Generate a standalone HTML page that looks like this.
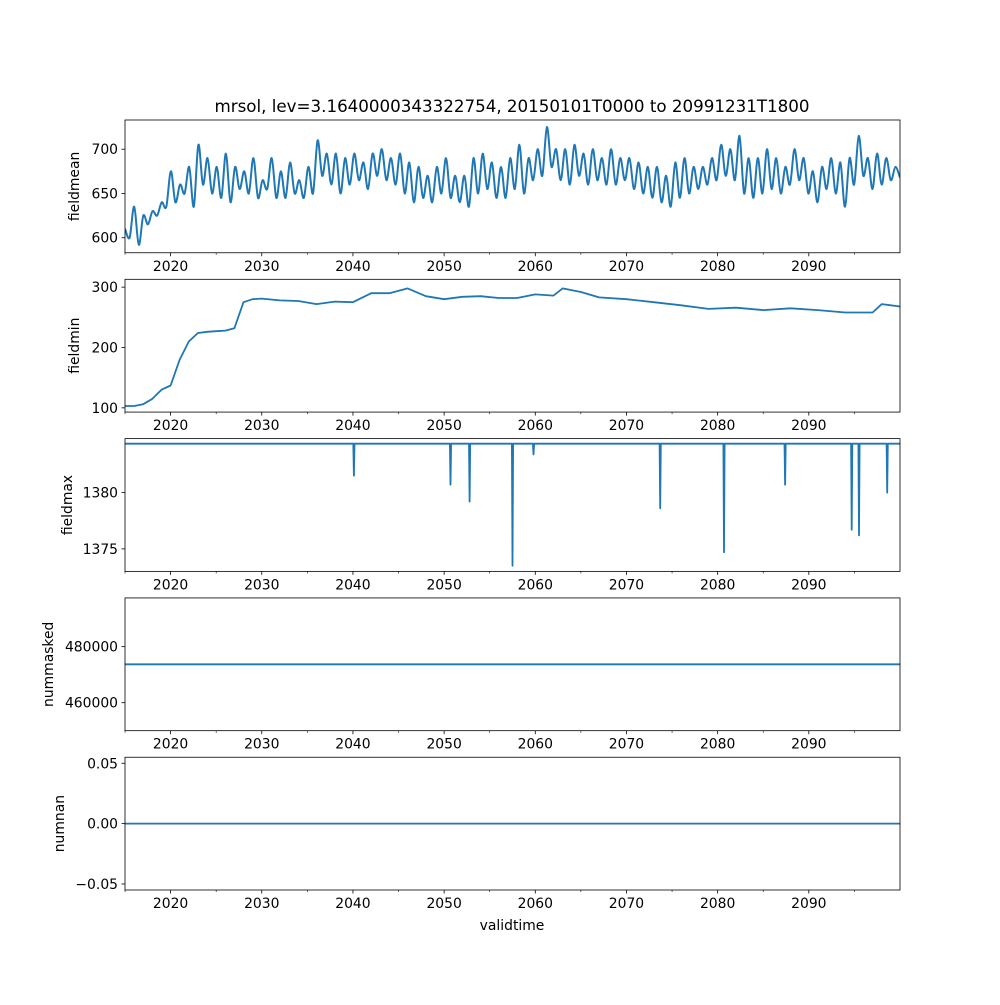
<!DOCTYPE html>
<html><head><meta charset="utf-8"><style>
body{margin:0;background:#fff}
svg{font-family:"DejaVu Sans","Liberation Sans",sans-serif}
</style></head><body>
<svg id="fig" width="1000" height="1000" xmlns="http://www.w3.org/2000/svg">
<text x="512" y="112" font-size="16.7" text-anchor="middle">mrsol, lev=3.1640000343322754, 20150101T0000 to 20991231T1800</text>
<text x="512" y="930" font-size="13.9" text-anchor="middle">validtime</text>
</svg>
<script>
const meanPairs=[610,600,635,592,625,615,630,625,640,635,675,640,660,650,680,635,705,660,690,650,680,645,695,640,680,655,675,650,690,645,665,655,690,645,675,645,685,650,665,645,680,650,710,670,695,660,695,650,690,660,695,665,685,655,695,670,700,665,690,660,695,650,685,640,680,645,670,640,680,650,690,645,670,640,670,635,690,650,695,655,685,645,680,645,690,655,705,650,690,665,700,670,725,680,700,665,700,660,705,670,695,660,700,665,690,660,700,660,690,665,690,655,685,650,680,645,680,640,670,635,685,645,690,650,680,655,680,660,690,665,705,670,700,665,715,650,690,645,690,650,700,655,690,650,680,660,700,665,690,650,675,640,680,655,690,650,685,635,690,660,715,670,690,655,695,660,690,665,680,668];
const minYears=[2015,2016,2017,2018,2019,2020,2021,2022,2023,2024,2025,2026,2027,2028,2029,2030,2032,2034,2036,2038,2040,2042,2044,2046,2048,2050,2052,2054,2056,2058,2060,2062,2063,2065,2067,2070,2073,2076,2079,2082,2085,2088,2091,2094,2097,2098,2100];
const minVals=[103,103,106,115,130,137,180,210,224,226,227,228,232,275,280,281,278,277,272,276,275,290,290,298,285,280,284,285,282,282,288,286,298,292,283,280,275,270,264,266,262,265,262,258,258,272,268];
const maxBase=1384.35;
const spikeYears=[2040.1,2050.7,2052.8,2057.5,2059.8,2073.7,2080.7,2087.4,2094.7,2095.5,2098.6];
const spikeVals=[1381.5,1380.7,1379.2,1373.5,1383.4,1378.6,1374.7,1380.7,1376.7,1376.2,1380];
const maskedVal=473700;
const nanVal=0;
const xTickYears=[2020,2030,2040,2050,2060,2070,2080,2090];
const minorYears=[2015,2025,2035,2045,2055,2065,2075,2085,2095];

const NS="http://www.w3.org/2000/svg";
const svg=document.getElementById('fig');
const L=125,R=900,H=132.76,G=26.55;
const x=y=>L+(y-2015)/(2100-2015)*(R-L);
function el(t,a,p){const e=document.createElementNS(NS,t);for(const k in a)e.setAttribute(k,a[k]);(p||svg).appendChild(e);return e;}
const panels=[
 {name:'fieldmean',lo:583,hi:733,ticks:[600,650,700],lab:v=>String(v)},
 {name:'fieldmin',lo:93,hi:313,ticks:[100,200,300],lab:v=>String(v)},
 {name:'fieldmax',lo:1373.0,hi:1384.8,ticks:[1375,1380],lab:v=>String(v)},
 {name:'nummasked',lo:450015,hi:497385,ticks:[460000,480000],lab:v=>String(v)},
 {name:'numnan',lo:-0.055,hi:0.055,ticks:[-0.05,0,0.05],lab:v=>v.toFixed(2).replace('-','\u2212')}
];
panels.forEach((p,i)=>{
 const top=120+i*(H+G),bot=top+H;
 const yf=v=>bot-(v-p.lo)/(p.hi-p.lo)*H;
 p.y=yf;
 const g=el('g',{});
 
 
 el('rect',{x:L,y:top,width:R-L,height:H,fill:'#fff',stroke:'none'},g);
 p.g=g;p.top=top;p.bot=bot;
 p.ticks.forEach(t=>{const yy=yf(t);
  el('line',{x1:L-3.5,x2:L,y1:yy,y2:yy,stroke:'#000','stroke-width':0.8},g);
  const tx=el('text',{x:L-7,y:yy+5,'font-size':13.9,'text-anchor':'end'},g);tx.textContent=p.lab(t);
  
  
 });
 xTickYears.forEach(t=>{const xx=x(t);
  el('line',{x1:xx,x2:xx,y1:bot,y2:bot+3.5,stroke:'#000','stroke-width':0.8},g);
  const tx=el('text',{x:xx,y:bot+18,'font-size':13.9,'text-anchor':'middle'},g);tx.textContent=t;
  
  
 });
 minorYears.forEach(t=>{const xx=x(t);el('line',{x1:xx,x2:xx,y1:bot,y2:bot+2,stroke:'#000','stroke-width':0.6},g);});
 const yl=el('text',{transform:`translate(${i==3?53:(i==4?64:(i==2?72:79))},${(top+bot)/2}) rotate(-90)`,'font-size':13.9,'text-anchor':'middle'},g);
 yl.textContent=p.name;
 
 
});
function clip(p,name){const cp=el('clipPath',{id:'c'+name});el('rect',{x:L,y:p.top,width:R-L,height:H},cp);return `url(#c${name})`;}
function line(p,pts,name){
 const pl=el('polyline',{points:pts.map(q=>q[0].toFixed(1)+','+q[1].toFixed(1)).join(' '),fill:'none',stroke:'#1f77b4','stroke-width':1.8,'stroke-linejoin':'round','clip-path':clip(p,name)},p.g);
 
 
}
function smooth(p,pts,name){
 let d='M'+pts[0][0]+','+pts[0][1];
 for(let i=0;i<pts.length-1;i++){
  const p0=pts[i-1]||pts[i],p1=pts[i],p2=pts[i+1],p3=pts[i+2]||p2;
  const c1=[p1[0]+(p2[0]-p0[0])/6,p1[1]+(p2[1]-p0[1])/6],c2=[p2[0]-(p3[0]-p1[0])/6,p2[1]-(p3[1]-p1[1])/6];
  d+=` C${c1[0].toFixed(1)},${c1[1].toFixed(1)} ${c2[0].toFixed(1)},${c2[1].toFixed(1)} ${p2[0].toFixed(1)},${p2[1].toFixed(1)}`;
 }
 const pa=el('path',{d,fill:'none',stroke:'#1f77b4','stroke-width':2,'clip-path':clip(p,name)},p.g);
 
 
}
{const p=panels[0];const pts=[];const n=meanPairs.length;
 meanPairs.forEach((v,k)=>pts.push([x(2015+k*(2100-2015)/(n-1)),p.y(v)]));smooth(p,pts,'fieldmean-line');}
{const p=panels[1];line(p,minYears.map((yr,k)=>[x(yr),p.y(minVals[k])]),'fieldmin-line');}
{const p=panels[2];const pts=[[x(2015),p.y(maxBase)]];
 spikeYears.forEach((yr,k)=>{pts.push([x(yr)-0.6,p.y(maxBase)],[x(yr),p.y(spikeVals[k])],[x(yr)+0.6,p.y(maxBase)]);});
 pts.push([x(2100),p.y(maxBase)]);line(p,pts,'fieldmax-line');}
{const p=panels[3];line(p,[[x(2015),p.y(maskedVal)],[x(2100),p.y(maskedVal)]],'nummasked-line');}
{const p=panels[4];line(p,[[x(2015),p.y(nanVal)],[x(2100),p.y(nanVal)]],'numnan-line');}
panels.forEach(p=>el('rect',{x:L,y:p.top,width:R-L,height:H,fill:'none',stroke:'#000','stroke-width':0.8},p.g));
</script>
</body></html>
